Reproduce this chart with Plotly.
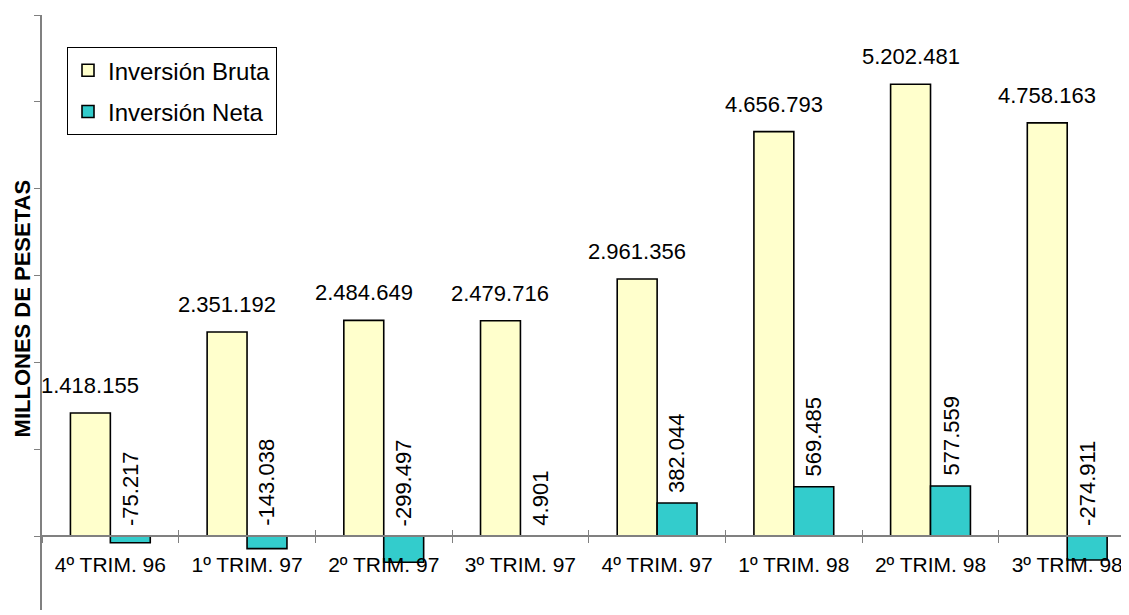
import plotly.graph_objects as go

categories = ["4º TRIM. 96", "1º TRIM. 97", "2º TRIM. 97", "3º TRIM. 97",
              "4º TRIM. 97", "1º TRIM. 98", "2º TRIM. 98", "3º TRIM. 98"]
bruta = [1418155, 2351192, 2484649, 2479716, 2961356, 4656793, 5202481, 4758163]
neta = [-75217, -143038, -299497, 4901, 382044, 569485, 577559, -274911]
series_names = ["Inversión Bruta", "Inversión Neta"]
axis_title = "MILLONES DE PESETAS"


def fmt(v):
    s = f"{abs(v):,}".replace(",", ".")
    return ("-" if v < 0 else "") + s


FONT = "Arial, Liberation Sans, sans-serif"
YMIN, YMAX = -850000, 6000000

fig = go.Figure()
fig.add_trace(go.Bar(x=categories, y=bruta, name=series_names[0],
                     marker=dict(color="#FFFFCC", line=dict(color="black", width=1.6)),
                     legendgroup="a"))
fig.add_trace(go.Bar(x=categories, y=neta, name=series_names[1],
                     marker=dict(color="#33CCCC", line=dict(color="black", width=1.6)),
                     legendgroup="b"))
# overlay axis only used to draw the upper half of the crossing tick marks
fig.add_trace(go.Bar(x=categories, y=[None] * len(categories), xaxis="x2",
                     showlegend=False, hoverinfo="skip"))

ann = []
for c, v in zip(categories, bruta):
    ann.append(dict(x=c, y=v, text=fmt(v), showarrow=False, xshift=-20, yshift=13,
                    yanchor="bottom", font=dict(size=22, color="black", family=FONT)))
for c, v in zip(categories, neta):
    ann.append(dict(x=c, y=max(v, 0), text=fmt(v), showarrow=False, xshift=20, yshift=8,
                    yanchor="bottom", textangle=-90,
                    font=dict(size=22, color="black", family=FONT)))
ann.append(dict(xref="paper", yref="paper", x=0, y=0.506, text="<b>" + axis_title + "</b>",
                showarrow=False, textangle=-90, xanchor="right", xshift=-5,
                font=dict(size=22, color="black", family=FONT)))

pos = (0 - YMIN) / (YMAX - YMIN)
XR = [-0.5, 7.452]

fig.update_layout(
    width=1121, height=607,
    margin=dict(l=34, r=0, t=7, b=5),
    paper_bgcolor="white", plot_bgcolor="white",
    barmode="group", bargap=0.416, bargroupgap=0,
    font=dict(family=FONT, size=22, color="black"),
    annotations=ann,
    legend=dict(x=0.023, y=0.946, xanchor="left", yanchor="top",
                bordercolor="black", borderwidth=1, bgcolor="white",
                font=dict(size=24, family=FONT, color="black"),
                tracegroupgap=7, traceorder="grouped", itemwidth=30),
    xaxis=dict(range=XR, anchor="free", position=pos,
               showline=True, linecolor="#808080", linewidth=1.5,
               ticks="outside", ticklen=6, tickcolor="#808080", tickwidth=1,
               tickson="boundaries", ticklabelstandoff=10, showgrid=False,
               tickfont=dict(size=21, family=FONT, color="black")),
    xaxis2=dict(range=XR, anchor="free", position=pos, overlaying="x",
                showline=False, ticks="inside", ticklen=6, tickcolor="#808080",
                tickwidth=1, tickson="boundaries", showticklabels=False, showgrid=False),
    yaxis=dict(range=[YMIN, YMAX], tickmode="linear", tick0=0, dtick=1000000,
               showticklabels=False, ticks="outside", ticklen=6, tickcolor="#808080",
               showline=True, linecolor="#808080", linewidth=1.5,
               showgrid=False, zeroline=False),
)

fig.write_html("out.html")
